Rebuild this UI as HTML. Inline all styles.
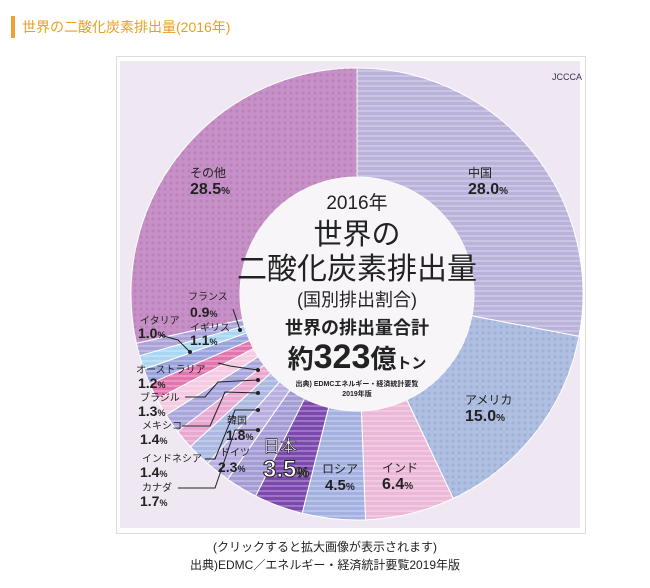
<!DOCTYPE html>
<html><head><meta charset="utf-8">
<style>
body{margin:0;width:650px;height:588px;background:#fff;overflow:hidden;font-family:"Liberation Sans","Noto Sans CJK JP",sans-serif;}
#t{position:absolute;left:11px;top:16px;height:22px;border-left:4px solid #f0a030;padding-left:7px;color:#e8a020;font-size:14px;line-height:22px;}
#p{position:absolute;left:116px;top:56px;width:468px;height:476px;border:1px solid #ddd;background:#fff;}
.c{position:absolute;left:0;width:650px;text-align:center;font-size:12px;color:#222;}
</style></head><body>
<div id="t">世界の二酸化炭素排出量(2016年)</div>
<div id="p"></div>
<svg width="650" height="588" style="position:absolute;left:0;top:0" font-family="Liberation Sans, Noto Sans CJK JP, sans-serif">
<defs>
<pattern id="dots" width="6" height="6" patternUnits="userSpaceOnUse"><circle cx="3" cy="3" r="1.6" fill="#000" opacity="0.08"/></pattern>
<pattern id="str" width="5" height="5" patternUnits="userSpaceOnUse"><rect width="5" height="2" fill="#fff" opacity="0.25"/></pattern>
</defs>
<rect x="120" y="61" width="460" height="467" fill="#efe8f3"/>
<g id="ring"></g>
<circle cx="357" cy="294" r="117" fill="#f8f5f9"/>
<text x="567" y="80" font-size="9" text-anchor="middle" fill="#335">JCCCA</text>
<g text-anchor="middle" fill="#222">
<text x="357" y="209" font-size="19">2016年</text>
<text x="357" y="244" font-size="29">世界の</text>
<text x="357" y="279" font-size="30">二酸化炭素排出量</text>
<text x="357" y="306" font-size="18">(国別排出割合)</text>
<text x="357" y="334" font-size="18" font-weight="bold">世界の排出量合計</text>
<text x="357" y="368" font-weight="bold"><tspan font-size="26">約</tspan><tspan font-size="34">323</tspan><tspan font-size="26">億</tspan><tspan font-size="15">トン</tspan></text>
<text x="357" y="386" font-size="7" font-weight="bold">出典) EDMCエネルギー・経済統計要覧</text>
<text x="357" y="396" font-size="7" font-weight="bold">2019年版</text>
</g>
<g fill="#222" font-weight="bold">
<text x="190" y="177" font-size="12" font-weight="normal">その他</text><text x="190" y="194" font-size="16">28.5<tspan font-size="10">%</tspan></text>
<text x="468" y="177" font-size="12" font-weight="normal">中国</text><text x="468" y="194" font-size="16">28.0<tspan font-size="10">%</tspan></text>
<text x="465" y="404" font-size="12" font-weight="normal">アメリカ</text><text x="465" y="421" font-size="16">15.0<tspan font-size="10">%</tspan></text>
<text x="382" y="472" font-size="12" font-weight="normal">インド</text><text x="382" y="489" font-size="16">6.4<tspan font-size="10">%</tspan></text>
<text x="322" y="473" font-size="12" font-weight="normal">ロシア</text><text x="325" y="490" font-size="15">4.5<tspan font-size="10">%</tspan></text>
<text x="263" y="452" font-size="17" font-weight="normal" fill="#fff" stroke="#222" stroke-width="0.6">日本</text>
<text x="263" y="477" font-size="24" fill="#fff" stroke="#222" stroke-width="1">3.5<tspan font-size="14">%</tspan></text>
<text x="227" y="424" font-size="10" font-weight="normal">韓国</text><text x="226" y="440" font-size="14">1.8<tspan font-size="9">%</tspan></text>
<text x="220" y="456" font-size="10" font-weight="normal">ドイツ</text><text x="218" y="472" font-size="14">2.3<tspan font-size="9">%</tspan></text>
<text x="188" y="300" font-size="10" font-weight="normal">フランス</text><text x="190" y="317" font-size="14">0.9<tspan font-size="9">%</tspan></text>
<text x="140" y="324" font-size="10" font-weight="normal">イタリア</text><text x="138" y="338" font-size="14">1.0<tspan font-size="9">%</tspan></text>
<text x="190" y="331" font-size="10" font-weight="normal">イギリス</text><text x="190" y="345" font-size="14">1.1<tspan font-size="9">%</tspan></text>
<text x="136" y="373" font-size="10" font-weight="normal">オーストラリア</text><text x="138" y="388" font-size="14">1.2<tspan font-size="9">%</tspan></text>
<text x="140" y="401" font-size="10" font-weight="normal">ブラジル</text><text x="138" y="416" font-size="14">1.3<tspan font-size="9">%</tspan></text>
<text x="142" y="429" font-size="10" font-weight="normal">メキシコ</text><text x="140" y="444" font-size="14">1.4<tspan font-size="9">%</tspan></text>
<text x="142" y="462" font-size="10" font-weight="normal">インドネシア</text><text x="140" y="477" font-size="14">1.4<tspan font-size="9">%</tspan></text>
<text x="142" y="491" font-size="10" font-weight="normal">カナダ</text><text x="140" y="506" font-size="14">1.7<tspan font-size="9">%</tspan></text>
</g>
<g stroke="#222" stroke-width="1" fill="none">
<polyline points="218,363 230,366 258,370"/><polyline points="185,397 205,397 218,382 258,380"/>
<polyline points="182,426 210,426 225,392 258,393"/><polyline points="205,459 215,459 235,410 258,410"/>
<polyline points="178,488 215,488 235,430 258,430"/><polyline points="233,309 240,330"/><polyline points="160,335 178,340 190,352"/>
</g>
<g fill="#222"><circle cx="258" cy="370" r="2"/><circle cx="258" cy="380" r="2"/><circle cx="258" cy="393" r="2"/><circle cx="258" cy="410" r="2"/><circle cx="258" cy="430" r="2"/><circle cx="240" cy="330" r="2"/><circle cx="190" cy="352" r="2"/></g>
</svg>
<div class="c" style="top:538px">(クリックすると拡大画像が表示されます)</div>
<div class="c" style="top:556px">出典)EDMC／エネルギー・経済統計要覧2019年版</div>
<script>
var d=[[28.0,'#b9b2da'],[15.0,'#b0c0e4'],[6.4,'#ecb8d8'],[4.5,'#a3b0e0'],[3.5,'#7b48ad'],[2.3,'#a49cd4'],[1.8,'#b8aee0'],[1.7,'#aab8e2'],[1.4,'#e8a8d2'],[1.4,'#a8a6dc'],[1.3,'#f4cbe2'],[1.2,'#e274ae'],[1.1,'#98a2dc'],[1.0,'#a9d6f2'],[0.9,'#aaa2d8'],[28.5,'#c890c8']];
var cx=357,cy=294,R=226,r=117,a=0,s='';
function pt(t,rr){var q=t/100*2*Math.PI;return (cx+rr*Math.sin(q)).toFixed(2)+','+(cy-rr*Math.cos(q)).toFixed(2);}
d.forEach(function(e){var b=a+e[0],l=e[0]>50?1:0;
var p='M'+pt(a,r)+' L'+pt(a,R)+' A'+R+','+R+' 0 '+l+' 1 '+pt(b,R)+' L'+pt(b,r)+' A'+r+','+r+' 0 '+l+' 0 '+pt(a,r)+'Z';
s+='<path d="'+p+'" fill="'+e[1]+'" stroke="#fff" stroke-width="1"/><path d="'+p+'" fill="url(#'+(e[0]>10&&e[0]<20||e[0]>28.2?'dots':'str')+')"/>';a=b;});
document.getElementById('ring').innerHTML=s;
</script>
</body></html>
